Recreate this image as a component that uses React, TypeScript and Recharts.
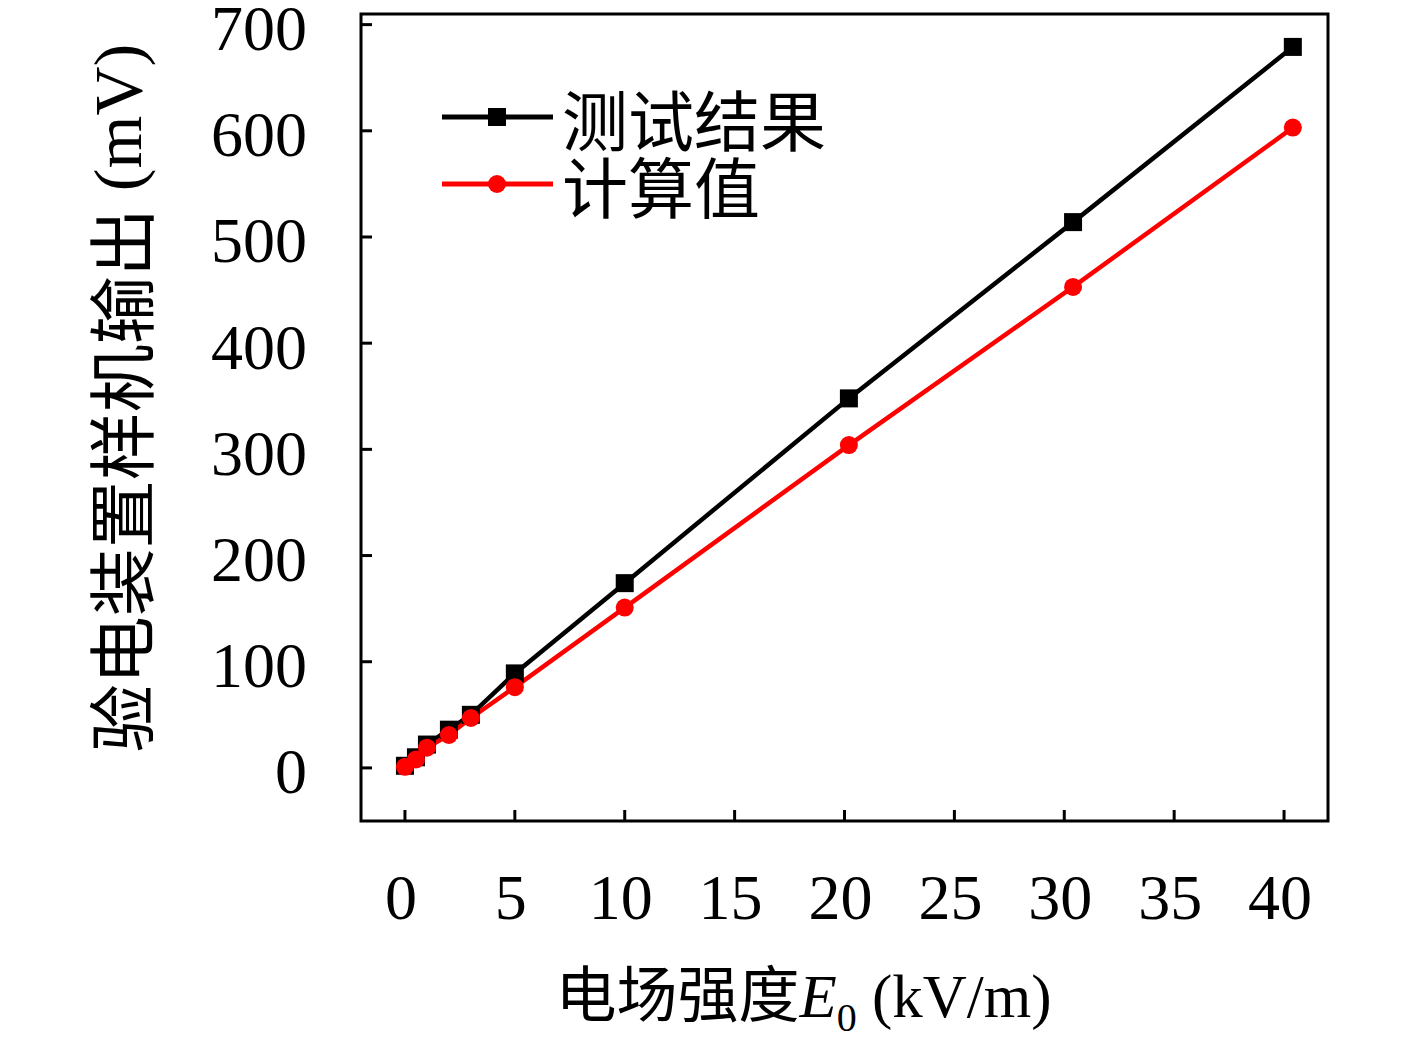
import React from 'react';
import {
  LineChart,
  Line,
  XAxis,
  YAxis,
  ReferenceArea,
  Legend,
} from 'recharts';

// field strength E0 (kV/m)
const fieldStrength = [0, 0.5, 1, 2, 3, 5, 10, 20.2, 30.4, 40.4];
// measured output (mV)
const measured = [2, 10, 22, 36, 50, 89, 174, 348, 514, 679];
// calculated output (mV)
const calculated = [1, 8, 19, 31, 47, 76, 151, 304, 453, 603];

const xTicks = [0, 5, 10, 15, 20, 25, 30, 35, 40];
const yTicks = [0, 100, 200, 300, 400, 500, 600, 700];

const SERIES_NAMES = ['测试结果', '计算值'];
const RED = '#ff0000';
const FONT = "'Liberation Serif', 'Noto Sans CJK SC', serif";
const CJK = "'Noto Sans CJK SC', 'Liberation Serif', serif";

const data = fieldStrength.map((x, i) => ({
  x,
  measured: measured[i],
  calculated: calculated[i],
}));

const XTick = ({ x, y, payload }: any) => (
  <g>
    <line x1={x} y1={y} x2={x} y2={y - 11} stroke="#000" strokeWidth={3} />
    <text x={x - 4} y={y + 76} textAnchor="middle" dominantBaseline="central" fontFamily={FONT} fontSize={64} fill="#000">
      {payload.value}
    </text>
  </g>
);

const YTick = ({ x, y, payload }: any) => (
  <g>
    <line x1={x} y1={y} x2={x + 11} y2={y} stroke="#000" strokeWidth={3} />
    <text x={x - 54} y={y + 4} textAnchor="end" dominantBaseline="central" fontFamily={FONT} fontSize={64} fill="#000">
      {payload.value}
    </text>
  </g>
);

const SquareDot = ({ cx, cy }: any) => (
  <rect x={cx - 9} y={cy - 9} width={18} height={18} fill="#000" />
);

const CircleDot = ({ cx, cy }: any) => (
  <circle cx={cx} cy={cy} r={9} fill={RED} />
);

// legend drawn by hand, rows 67px apart
const LegendContent = () => (
  <svg width={460} height={190} style={{ overflow: 'visible' }}>
    <line x1={0} y1={53} x2={111} y2={53} stroke="#000" strokeWidth={5} />
    <rect x={46} y={44} width={18} height={18} fill="#000" />
    <text x={120} y={53} dominantBaseline="central" fontFamily={CJK} fontSize={66} fill="#000">
      {SERIES_NAMES[0]}
    </text>
    <line x1={0} y1={120} x2={111} y2={120} stroke={RED} strokeWidth={5} />
    <circle cx={55} cy={120} r={9} fill={RED} />
    <text x={120} y={120} dominantBaseline="central" fontFamily={CJK} fontSize={66} fill="#000">
      {SERIES_NAMES[1]}
    </text>
  </svg>
);

const XLabel = ({ viewBox }: any) => {
  const cx = viewBox.x + viewBox.width / 2 - 41;
  return (
    <text x={cx} y={1017} textAnchor="middle" fontSize={61} fill="#000" fontFamily={FONT}>
      <tspan fontFamily={CJK}>电场强度</tspan>
      <tspan fontStyle="italic">E</tspan>
      <tspan fontSize={40} dy={14}>0</tspan>
      <tspan dy={-14}>{' (kV/m)'}</tspan>
    </text>
  );
};

const YLabel = () => (
  <text
    x={118}
    y={398}
    transform="rotate(-90, 118, 398)"
    textAnchor="middle"
    dominantBaseline="central"
    fontSize={68}
    fill="#000"
    fontFamily={FONT}
  >
    <tspan fontFamily={CJK}>验电装置样机输出</tspan>
    <tspan>{' (mV)'}</tspan>
  </text>
);

export default function App() {
  return (
    <div style={{ position: 'absolute', left: 0, top: 0, width: 1417, height: 1039 }}>
      <LineChart
        width={1417}
        height={1039}
        data={data}
        margin={{ top: 14, right: 89, bottom: 0, left: 0 }}
      >
        <XAxis
          dataKey="x"
          type="number"
          domain={[-2, 42]}
          ticks={xTicks}
          height={218}
          axisLine={false}
          tickLine={false}
          tickSize={0}
          tickMargin={0}
          tick={<XTick />}
          interval={0}
          allowDataOverflow
          label={<XLabel />}
        />
        <YAxis
          type="number"
          domain={[-50, 710]}
          ticks={yTicks}
          width={361}
          axisLine={false}
          tickLine={false}
          tickSize={0}
          tickMargin={0}
          tick={<YTick />}
          interval={0}
          allowDataOverflow
          label={<YLabel />}
        />
        <ReferenceArea
          x1={-2}
          x2={42}
          y1={-50}
          y2={710}
          fill="none"
          stroke="#000"
          strokeWidth={3}
          ifOverflow="visible"
        />
        <Legend
          content={<LegendContent />}
          layout="vertical"
          verticalAlign="middle"
          align="center"
          wrapperStyle={{ left: 442, top: 64, width: 460, height: 190 }}
        />
        <Line
          dataKey="measured"
          name={SERIES_NAMES[0]}
          stroke="#000"
          strokeWidth={4.5}
          dot={<SquareDot />}
          activeDot={false}
          isAnimationActive={false}
        />
        <Line
          dataKey="calculated"
          name={SERIES_NAMES[1]}
          stroke={RED}
          strokeWidth={4.5}
          dot={<CircleDot />}
          activeDot={false}
          isAnimationActive={false}
        />
      </LineChart>
    </div>
  );
}
